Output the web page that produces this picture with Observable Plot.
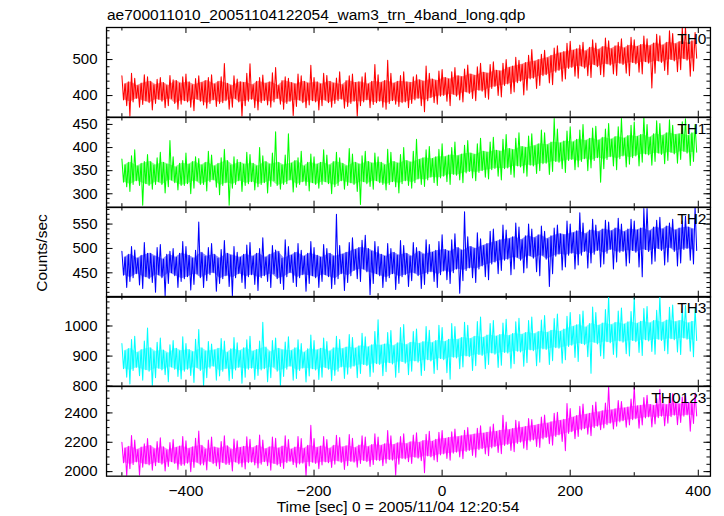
<!DOCTYPE html>
<html>
<head>
<meta charset="utf-8">
<script src="https://cdn.jsdelivr.net/npm/d3@7"></script>
<script src="https://cdn.jsdelivr.net/npm/@observablehq/plot@0.6"></script>
<style>
  html, body { margin: 0; padding: 0; background: #fff; }
  #chart { position: relative; width: 724px; height: 516px; font-family: "Liberation Sans", Arial, sans-serif; color: #000; overflow: hidden; }
  .lbl { position: absolute; font-size: 15.5px; line-height: 18px; white-space: nowrap; }
  .panel { position: absolute; left: 0; }
</style>
</head>
<body>
<div id="chart"></div>
<script>
// ---------------- data ----------------
const TITLE = "ae700011010_20051104122054_wam3_trn_4band_long.qdp";
const Y_LABEL = "Counts/sec";
const X_LABEL = "Time [sec] 0 = 2005/11/04 12:20:54";

// 10 s bins starting at -500 s. Per bin: outer high / low excursions (HI, LO)
// and inner high / low excursions (HI2, LO2) of the light curve.
const T_START = -500;
const T_STEP = 10;

const X_DOMAIN = [-524, 419];
const X_MAJOR = [-400, -200, 0, 200, 400];
const X_MINOR = [-500, -300, -100, 100, 300];

const TH0_HI = [
  455,462,448,458,452,445,450,456,444,452,
  460,447,455,450,458,452,489,455,446,462,
  488,450,457,463,478,452,448,460,455,484,
  450,462,456,449,466,455,460,452,463,486,
  458,498,462,456,466,452,458,482,462,468,
  472,466,478,474,485,480,490,486,494,490,
  500,506,498,512,528,515,526,532,538,545,
  551,540,548,555,546,560,552,548,558,562,
  555,565,558,570,566,580,572,588,590,575];
const TH0_LO = [
  372,343,368,375,360,378,366,372,362,376,
  368,358,374,365,370,378,362,368,343,372,
  366,360,374,368,376,362,345,370,366,374,
  360,372,368,378,365,370,343,372,366,375,
  368,362,376,370,366,378,372,355,380,376,
  384,372,388,382,392,386,395,390,400,396,
  405,410,402,415,420,428,435,430,440,446,
  454,448,455,450,458,452,460,456,462,455,
  465,460,421,462,470,458,466,472,454,468];
const TH0_HI2 = [
  432,438,428,435,440,430,436,428,442,434,
  438,430,436,442,432,440,434,428,438,436,
  430,440,434,438,428,442,436,432,440,434,
  438,432,440,434,430,442,436,438,432,440,
  436,442,434,440,438,436,444,440,446,442,
  450,446,455,452,460,456,465,462,470,468,
  478,482,486,492,495,500,505,512,518,522,
  526,530,524,534,528,536,530,538,532,540,
  536,542,538,546,540,548,544,550,546,552];
const TH0_LO2 = [
  388,382,392,385,380,390,384,392,378,386,
  382,390,384,378,388,380,386,392,382,384,
  390,380,386,382,392,378,384,388,380,386,
  382,388,380,386,390,378,384,382,388,380,
  384,378,386,380,382,388,392,386,394,398,
  400,404,398,410,406,415,412,420,425,428,
  432,436,440,446,448,455,458,465,470,475,
  478,482,476,486,480,488,484,490,486,492,
  488,494,490,496,492,500,496,502,498,504];

const TH1_HI = [
  375,382,395,370,385,378,390,415,380,372,
  388,380,376,392,384,378,396,380,374,390,
  385,400,382,388,434,384,430,378,392,386,
  380,395,384,390,378,398,386,382,392,388,
  380,396,390,385,400,392,418,395,402,396,
  408,400,412,405,415,408,420,412,422,418,
  428,420,432,425,430,438,432,463,440,436,
  445,438,450,442,446,440,452,445,463,448,
  455,466,450,458,452,460,448,456,462,450];
const TH1_LO = [
  315,305,318,275,310,320,302,315,308,318,
  300,312,320,306,314,298,275,312,305,318,
  308,315,302,316,310,320,304,314,318,306,
  312,320,300,315,310,318,305,277,316,310,
  320,308,315,302,318,312,320,316,324,318,
  326,320,330,324,334,328,336,332,338,330,
  342,336,345,338,344,350,342,348,354,346,
  352,358,350,356,325,354,360,352,358,364,
  360,368,362,370,365,372,366,374,361,370];
const TH1_HI2 = [
  362,368,360,366,370,362,368,364,358,366,
  364,370,362,368,360,366,372,362,368,364,
  366,360,370,364,368,362,366,372,360,368,
  364,368,362,370,366,360,368,364,370,366,
  368,362,370,366,372,368,374,378,376,380,
  380,384,382,386,388,385,392,390,394,392,
  398,395,402,400,404,408,406,412,410,414,
  412,418,415,420,416,422,418,424,420,426,
  424,428,422,430,426,432,428,430,426,432];
const TH1_LO2 = [
  325,320,328,322,318,326,320,330,324,318,
  322,328,320,326,330,318,324,320,328,322,
  326,320,324,328,318,322,330,320,326,324,
  320,326,322,318,328,324,320,326,322,328,
  324,320,326,322,328,324,332,330,336,334,
  338,342,340,345,348,346,350,352,355,354,
  356,360,358,362,360,365,366,370,368,372,
  374,370,376,372,378,374,380,376,382,378,
  382,386,384,388,385,390,386,392,388,390];

const TH2_HI = [
  494,504,497,512,490,502,508,494,500,514,
  504,496,554,502,510,498,516,504,492,507,
  512,500,522,506,497,518,504,510,496,514,
  502,508,500,570,506,512,522,517,527,514,
  504,510,500,516,506,512,502,518,508,514,
  528,518,530,575,524,532,520,535,540,548,
  538,552,544,550,540,546,535,542,548,556,
  550,573,552,560,548,558,554,562,550,560,
  556,582,582,558,564,552,560,556,566,585];
const TH2_LO = [
  420,432,425,418,430,410,403,428,420,432,
  415,426,420,434,412,428,422,403,430,418,
  426,414,432,420,428,416,430,422,412,428,
  420,432,418,426,414,430,438,432,405,428,
  420,432,416,428,422,434,418,426,432,420,
  436,428,408,434,440,430,442,436,448,455,
  446,458,450,460,452,444,422,448,456,462,
  458,466,460,470,462,468,458,472,464,470,
  462,442,468,474,466,472,464,470,476,468];
const TH2_HI2 = [
  482,488,480,486,490,484,478,488,482,490,
  486,480,492,484,488,480,490,486,482,488,
  484,490,482,488,494,480,486,492,484,490,
  486,482,490,484,488,492,498,502,500,494,
  488,484,492,486,490,484,494,488,492,496,
  498,494,502,496,504,500,506,510,514,518,
  520,524,518,526,522,528,520,526,530,528,
  532,536,530,538,534,540,536,542,534,540,
  538,542,536,544,540,546,538,542,544,540];
const TH2_LO2 = [
  445,440,448,442,438,446,440,450,444,438,
  442,448,440,446,450,438,444,440,448,442,
  446,440,444,448,438,442,450,440,446,444,
  440,446,442,438,448,444,455,458,452,448,
  444,440,448,442,446,450,444,448,452,446,
  454,450,458,455,460,458,464,468,472,476,
  478,482,476,485,480,486,478,484,488,486,
  490,486,494,488,496,490,498,492,494,496,
  492,498,494,500,496,502,494,498,500,496];

const TH3_HI = [
  942,955,966,950,993,946,960,938,952,964,
  942,956,988,948,940,958,950,962,944,954,
  966,950,1012,952,960,947,964,954,942,970,
  952,960,948,966,955,972,962,976,964,982,
  1021,978,985,995,1005,982,990,998,986,1002,
  995,1008,998,1012,1002,1015,1030,1008,1018,1010,
  1022,1014,1026,1018,1030,1020,1035,1025,1040,1032,
  1045,1038,1050,1063,1045,1055,1098,1050,1060,1048,
  1098,1058,1065,1052,1098,1062,1070,1058,1068,1060];
const TH3_LO = [
  830,807,835,820,801,828,838,815,832,824,
  836,812,801,828,820,834,818,826,810,830,
  822,836,815,828,801,832,820,826,814,834,
  822,830,818,836,826,840,828,842,832,846,
  835,848,830,845,838,850,836,852,842,855,
  845,823,858,864,852,868,858,872,862,870,
  860,875,866,878,868,880,872,885,876,888,
  895,882,898,843,900,892,905,896,908,900,
  912,902,915,906,918,908,914,905,916,898];
const TH3_HI2 = [
  918,925,912,922,928,915,920,910,926,918,
  922,914,928,916,920,926,912,924,918,928,
  916,922,930,914,926,920,918,928,912,924,
  920,926,916,928,924,930,926,934,930,938,
  936,940,934,944,938,946,942,948,944,952,
  948,956,955,962,958,966,962,970,966,972,
  968,975,972,978,974,982,978,986,982,990,
  998,1004,996,1008,1002,1010,1004,1012,1006,1014,
  1008,1016,1010,1018,1012,1020,1014,1018,1010,1016];
const TH3_LO2 = [
  858,852,862,855,850,860,854,864,856,850,
  856,862,852,860,866,850,858,854,862,856,
  860,854,858,864,850,856,866,852,860,858,
  854,862,856,850,864,860,866,872,868,875,
  872,878,874,882,876,884,880,888,884,892,
  888,896,894,900,898,905,902,910,906,912,
  910,916,914,920,918,924,922,928,926,932,
  936,942,938,946,940,948,944,950,946,952,
  948,954,950,956,952,958,954,960,956,952];

const TH0123_HI = [
  2200,2246,2215,2190,2225,2205,2230,2198,2218,2240,
  2210,2228,2276,2215,2235,2205,2245,2222,2210,2238,
  2220,2250,2215,2235,2228,2245,2218,2240,2225,2315,
  2225,2240,2218,2248,2232,2252,2228,2244,2236,2258,
  2235,2280,2245,2240,2258,2250,2265,2255,2275,2268,
  2280,2272,2290,2282,2300,2295,2312,2305,2325,2384,
  2338,2350,2342,2362,2355,2372,2385,2398,2405,2464,
  2430,2445,2460,2452,2475,2468,2580,2485,2478,2495,
  2580,2505,2520,2498,2560,2515,2530,2508,2522,2535];
const TH0123_LO = [
  1970,2020,1975,2030,2010,2040,2005,2035,2015,2042,
  2000,2028,2045,2012,2038,2020,2048,2005,2032,2018,
  2045,2025,2040,2010,2035,2022,2048,2030,1972,2038,
  2020,2045,2028,2050,2015,2040,2030,2055,2035,2048,
  2040,2058,1975,2050,2068,2055,2075,1993,2080,2068,
  2090,2078,2100,2088,2110,2098,2120,2108,2130,2122,
  2145,2135,2160,2150,2172,2165,2190,2180,2205,2143,
  2225,2240,2255,2245,2285,2298,2290,2310,2302,2318,
  2295,2318,2305,2325,2312,2330,2320,2335,2276,2328];
const TH0123_HI2 = [
  2160,2172,2150,2168,2178,2155,2170,2148,2165,2175,
  2158,2170,2180,2152,2168,2160,2176,2150,2165,2172,
  2162,2178,2155,2170,2160,2175,2152,2168,2158,2180,
  2165,2174,2158,2180,2168,2176,2162,2182,2170,2185,
  2178,2190,2184,2196,2190,2204,2198,2212,2206,2220,
  2226,2232,2238,2244,2250,2256,2262,2268,2274,2282,
  2286,2294,2300,2308,2314,2322,2330,2340,2348,2356,
  2370,2382,2390,2398,2406,2414,2420,2428,2434,2440,
  2448,2452,2458,2450,2462,2456,2468,2460,2470,2464];
const TH0123_LO2 = [
  2060,2048,2066,2052,2045,2062,2050,2068,2055,2044,
  2058,2064,2046,2070,2054,2062,2048,2066,2052,2060,
  2064,2050,2068,2056,2046,2060,2070,2052,2058,2064,
  2056,2066,2060,2072,2062,2070,2064,2076,2068,2078,
  2074,2082,2078,2090,2086,2098,2092,2106,2100,2114,
  2120,2126,2132,2138,2144,2150,2156,2162,2170,2178,
  2185,2192,2200,2208,2215,2222,2232,2240,2250,2260,
  2272,2284,2292,2300,2310,2320,2330,2338,2346,2354,
  2360,2366,2372,2368,2378,2374,2384,2378,2386,2380];

const PANEL_NAMES = ["TH0", "TH1", "TH2", "TH3", "TH0123"];
const PANEL_COLORS = ["#ff0000", "#00ff00", "#0000ff", "#00ffff", "#ff00ff"];
const PANEL_DOMAINS = [[340, 589], [271, 465], [400, 584], [800, 1098], [1969, 2580]];
const PANEL_MAJOR = [[400, 500], [300, 350, 400, 450], [450, 500, 550], [800, 900, 1000], [2000, 2200, 2400]];
const PANEL_MINOR_STEP = [20, 10, 10, 20, 50];
const PANEL_HI = [TH0_HI, TH1_HI, TH2_HI, TH3_HI, TH0123_HI];
const PANEL_LO = [TH0_LO, TH1_LO, TH2_LO, TH3_LO, TH0123_LO];
const PANEL_HI2 = [TH0_HI2, TH1_HI2, TH2_HI2, TH3_HI2, TH0123_HI2];
const PANEL_LO2 = [TH0_LO2, TH1_LO2, TH2_LO2, TH3_LO2, TH0123_LO2];

// ---------------- layout ----------------
const W = 724, ML = 106, MR = 14;
const PW = W - ML - MR;
const TOP0 = 27.3, PH = 89.7;
const FONT = "'Liberation Sans', Arial, sans-serif";
const fmt = d => (d < 0 ? "\u2212" + Math.abs(d) : String(d));

const chart = document.getElementById("chart");

function addLabel(text, css) {
  const el = document.createElement("div");
  el.className = "lbl";
  el.textContent = text;
  Object.assign(el.style, css);
  chart.appendChild(el);
  return el;
}

PANEL_NAMES.forEach((name, k) => {
  const hi = PANEL_HI[k], lo = PANEL_LO[k], hi2 = PANEL_HI2[k], lo2 = PANEL_LO2[k];
  const q = T_STEP / 4;
  const rows = [], core = [];
  hi.forEach((h, i) => {
    const t = T_START + i * T_STEP;
    // alternate the order of the four excursions from bin to bin
    const seq = i % 2 === 0 ? [h, lo2[i], hi2[i], lo[i]] : [hi2[i], lo[i], h, lo2[i]];
    seq.forEach((v, j) => rows.push({t: t + j * q, v}));
    core.push({t: t + 1.5 * q, y1: lo2[i], y2: hi2[i]});
  });
  const dom = PANEL_DOMAINS[k];
  const step = PANEL_MINOR_STEP[k];
  const minor = d3.range(Math.ceil(dom[0] / step) * step, dom[1] + 0.001, step);
  const last = k === PANEL_NAMES.length - 1;
  const tick = {stroke: "#000", strokeWidth: 1};
  const marks = [
    Plot.areaY(core, {x: "t", y1: "y1", y2: "y2", fill: PANEL_COLORS[k], fillOpacity: 0.45, clip: true}),
    Plot.line(rows, {x: "t", y: "v", stroke: PANEL_COLORS[k], strokeWidth: 1.05, clip: true}),
    Plot.tickX(X_MAJOR, {x: d => d, insetBottom: PH - 6, ...tick}),
    Plot.tickX(X_MAJOR, {x: d => d, insetTop: PH - 6, ...tick}),
    Plot.tickX(X_MINOR, {x: d => d, insetBottom: PH - 3.5, ...tick}),
    Plot.tickX(X_MINOR, {x: d => d, insetTop: PH - 3.5, ...tick}),
    Plot.tickY(minor, {y: d => d, insetRight: PW - 3.5, ...tick}),
    Plot.tickY(minor, {y: d => d, insetLeft: PW - 3.5, ...tick}),
    Plot.tickY(PANEL_MAJOR[k], {y: d => d, insetRight: PW - 6.5, ...tick}),
    Plot.tickY(PANEL_MAJOR[k], {y: d => d, insetLeft: PW - 6.5, ...tick}),
    Plot.frame({stroke: "#000", strokeWidth: 1.3}),
    Plot.text(PANEL_MAJOR[k], {x: X_DOMAIN[0], y: d => d, text: d => fmt(d), textAnchor: "end", dx: -9, fontSize: 15, fill: "#000"}),
    Plot.text([name], {frameAnchor: "top-right", text: d => d, textAnchor: "end", lineAnchor: "top", dx: -4, dy: 5, fontSize: 15.5, fill: "#000"})
  ];
  if (last) {
    marks.push(Plot.text(X_MAJOR, {x: d => d, y: dom[0], text: d => fmt(d), lineAnchor: "top", dy: 9, fontSize: 15.5, fill: "#000"}));
  }
  const svg = Plot.plot({
    width: W, height: PH,
    marginLeft: ML, marginRight: MR, marginTop: 0, marginBottom: 0,
    x: {domain: X_DOMAIN, axis: null},
    y: {domain: dom, axis: null},
    style: {background: "transparent", overflow: "visible", fontFamily: FONT, fontSize: "15px", color: "#000"},
    marks
  });
  const wrap = document.createElement("div");
  wrap.className = "panel";
  wrap.style.top = (TOP0 + k * PH) + "px";
  wrap.style.height = PH + "px";
  wrap.appendChild(svg);
  chart.appendChild(wrap);
});

addLabel(TITLE, {left: "107px", top: "5.6px"});
addLabel(X_LABEL, {left: "198px", width: "400px", textAlign: "center", top: "497.6px"});
addLabel(Y_LABEL, {left: "-58px", width: "200px", textAlign: "center", top: "244px", transform: "rotate(-90deg)"});
</script>
</body>
</html>
